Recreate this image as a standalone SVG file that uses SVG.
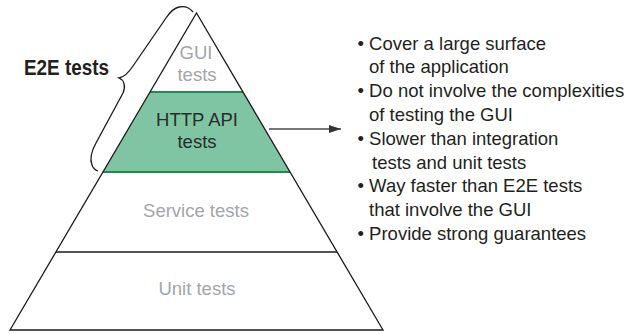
<svg xmlns="http://www.w3.org/2000/svg" width="627" height="334" viewBox="0 0 627 334">
  <defs>
    <style>
      .edge { fill: none; stroke: #1a1a1a; stroke-width: 1.3; }
      .lbl { font-family: "Liberation Sans", Arial, sans-serif; font-size: 18.5px; text-anchor: middle; }
      .grey { fill: #a3a5a8; }
      .dark { fill: #2b2b2b; }
      .bul { font-family: "Liberation Sans", Arial, sans-serif; font-size: 18.5px; fill: #231f20; }
      .green { stroke: #23894f; stroke-width: 2; }
    </style>
    <marker id="arr" markerWidth="12" markerHeight="8" refX="12" refY="4" orient="auto" markerUnits="userSpaceOnUse">
      <path d="M0,0 L12,4 L0,8 Z" fill="#333"/>
    </marker>
  </defs>
  <rect width="627" height="334" fill="#fff"/>

  <g id="pyramid">
    <g id="layer-http">
      <polygon points="150,92 243,92 290,172 103,172" fill="#80c5a3"/>
      <line x1="150" y1="92" x2="243" y2="92" class="green"/>
      <line x1="103" y1="172" x2="290" y2="172" class="green"/>
      <text class="lbl dark" x="197" y="126">HTTP API</text>
      <text class="lbl dark" x="197" y="148">tests</text>
    </g>
    <polygon class="edge" points="196.5,13 383,330 10,330"/>
    <g id="layer-gui">
      <text class="lbl grey" x="196" y="59">GUI</text>
      <text class="lbl grey" x="197" y="81">tests</text>
    </g>
    <g id="layer-service">
      <line x1="56" y1="252" x2="337" y2="252" stroke="#1a1a1a" stroke-width="1.5"/>
      <text class="lbl grey" x="196" y="217">Service tests</text>
    </g>
    <g id="layer-unit">
      <text class="lbl grey" x="197" y="295">Unit tests</text>
    </g>
  </g>

  <g id="e2e-label">
    <path class="edge" stroke-width="1.1" d="M193,12 C189,7 184,6 179,7 C174,8 170,12 166,18 L133,66 C129,72 125,77 119,78 C124,80 126,86 123,93 L96,143 C91,152 90,160 92,165 C93,168 95,170 98,171"/>
    <text x="24" y="74.5" font-family="'Liberation Sans', Arial, sans-serif" font-weight="bold" font-size="21.5" fill="#231f20" textLength="85" lengthAdjust="spacingAndGlyphs">E2E tests</text>
  </g>

  <g id="connectors">
    <line x1="269" y1="129" x2="341" y2="129" stroke="#4a4a4a" stroke-width="1.6" marker-end="url(#arr)"/>
  </g>

  <g id="notes">
    <text class="bul" x="357.5" y="49.5">• Cover a large surface</text>
    <text class="bul" x="369" y="73.3">of the application</text>
    <text class="bul" x="357.5" y="97.1">• Do not involve the complexities</text>
    <text class="bul" x="369" y="120.9">of testing the GUI</text>
    <text class="bul" x="357.5" y="144.7">• Slower than integration</text>
    <text class="bul" x="372" y="168.5">tests and unit tests</text>
    <text class="bul" x="357.5" y="192.3">• Way faster than E2E tests</text>
    <text class="bul" x="369" y="216.1">that involve the GUI</text>
    <text class="bul" x="357.5" y="239.9">• Provide strong guarantees</text>
  </g>
</svg>
